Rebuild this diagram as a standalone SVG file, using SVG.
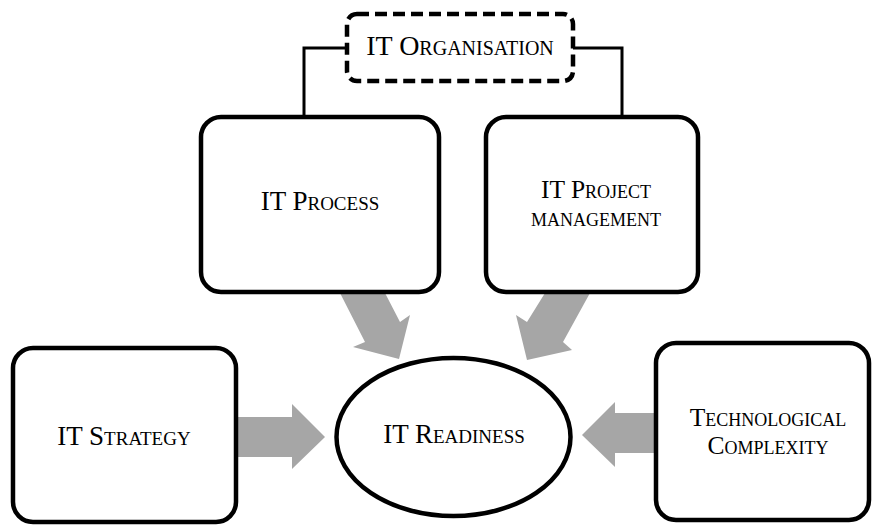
<svg xmlns="http://www.w3.org/2000/svg" width="872" height="527" viewBox="0 0 872 527">
<style>
.box{fill:#fff;stroke:#000;stroke-width:4.5}
.dash{fill:#fff;stroke:#000;stroke-width:4.5;stroke-dasharray:12 6}
.conn{fill:none;stroke:#000;stroke-width:3}
.arr{fill:#a6a6a6;stroke:none}
text{font-family:"Liberation Serif","Times New Roman",serif;font-size:27px;font-variant:small-caps;fill:#000;text-anchor:middle}
.two{font-size:25.5px}
</style>
<rect width="872" height="527" fill="#fff"/>
<g id="connectors">
<path class="conn" d="M347,48 H304 V117"/>
<path class="conn" d="M573,48 H622 V117"/>
<polygon class="arr" points="340,293 365,342 353,347 399,359 410,315 400,322 385,293"/>
<polygon class="arr" points="545,293 527,322 516,315 527,360 572,350 563,342 590,293"/>
<polygon class="arr" points="238,417 292,417 292,404 325,437 292,469 292,457 238,457"/>
<polygon class="arr" points="654,413 615,413 615,402 582,435 615,467 615,453 654,453"/>
</g>
<g id="it-organisation">
<rect class="dash" x="347" y="14" width="226" height="67" rx="10"/>
<text x="460" y="55" style="font-size:28px">IT Organisation</text>
</g>
<g id="it-process">
<rect class="box" x="201" y="117" width="238" height="175" rx="20"/>
<text x="320" y="210">IT Process</text>
</g>
<g id="it-project-management">
<rect class="box" x="486" y="117" width="212" height="175" rx="20"/>
<text class="two" x="596" y="198">IT Project</text>
<text class="two" x="596" y="226">management</text>
</g>
<g id="it-strategy">
<rect class="box" x="13" y="348" width="223" height="174" rx="20"/>
<text x="124" y="445">IT Strategy</text>
</g>
<g id="it-readiness">
<ellipse class="box" cx="453.5" cy="437" rx="117" ry="79"/>
<text x="454" y="443">IT Readiness</text>
</g>
<g id="technological-complexity">
<rect class="box" x="656" y="343" width="213" height="177" rx="20"/>
<text class="two" x="768" y="426">Technological</text>
<text class="two" x="768" y="454">Complexity</text>
</g>
</svg>
